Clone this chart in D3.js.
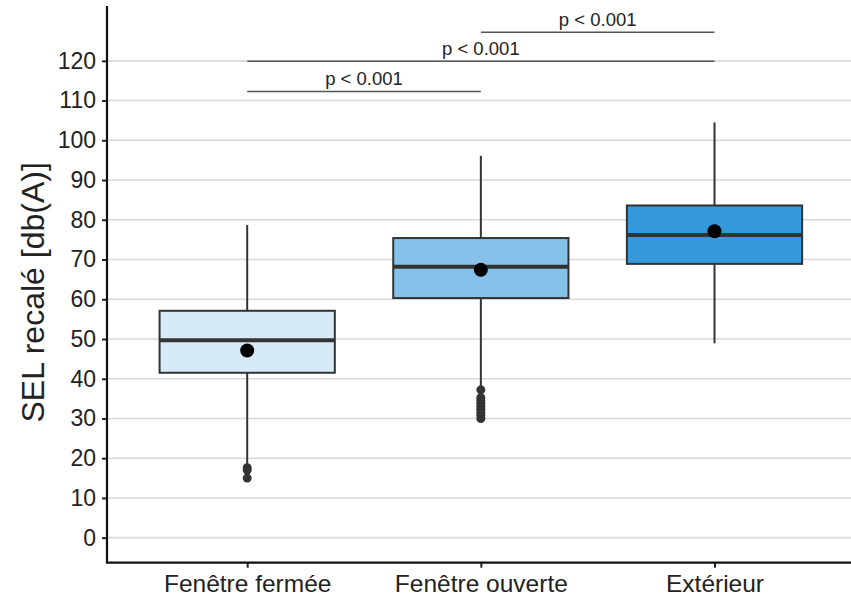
<!DOCTYPE html>
<html>
<head>
<meta charset="utf-8">
<script src="https://cdn.jsdelivr.net/npm/d3@7"></script>
<style>
  html, body { margin: 0; padding: 0; background: #fff; }
  text { font-family: "Liberation Sans", Arial, Helvetica, sans-serif; }
</style>
</head>
<body>
<svg id="chart" width="851" height="599"></svg>
<script>
// ---- Data ----
const categories = ["Fenêtre fermée", "Fenêtre ouverte", "Extérieur"];
const boxFill = ["#D6EAF8", "#85C1E9", "#3498DB"];
const whiskerLow = [18.3, 38.2, 48.9];
const q1 = [41.5, 60.3, 68.9];
const median = [49.7, 68.2, 76.2];
const q3 = [57.1, 75.4, 83.6];
const whiskerHigh = [78.7, 96.1, 104.5];
const means = [47.1, 67.4, 77.1];
const outliersFermee = [17.6, 17.0, 15.0];
const outliersOuverte = [37.2, 35.2, 34.5, 33.8, 33.0, 32.3, 31.5, 30.8, 30.0];
const outliersExterieur = [];
const yTicks = [0, 10, 20, 30, 40, 50, 60, 70, 80, 90, 100, 110, 120];
const comparisons = [
  { from: "Fenêtre fermée", to: "Fenêtre ouverte", y: 112.3, label: "p < 0.001" },
  { from: "Fenêtre fermée", to: "Extérieur", y: 119.9, label: "p < 0.001" },
  { from: "Fenêtre ouverte", to: "Extérieur", y: 127.2, label: "p < 0.001" }
];
const yTitle = "SEL recalé [db(A)]";

// ---- Layout ----
(function () {
const svg = d3.select("#chart");
const pLeft = 107, pRight = 854.7, pTop = 6, pBottom = 562.7;

const x = d3.scalePoint().domain(categories).range([pLeft, pRight]).padding(0.6);
const y = d3.scaleLinear().domain([-6.3, 133.8]).range([pBottom, pTop]);
const step = x.step();
const boxW = step * 0.75;

// gridlines
svg.append("g").selectAll("line").data(yTicks).join("line")
  .attr("x1", pLeft).attr("x2", 851)
  .attr("y1", d => y(d)).attr("y2", d => y(d))
  .attr("stroke", "#d9d9d9").attr("stroke-width", 1.6);

const outs = [outliersFermee, outliersOuverte, outliersExterieur];
const groups = categories.map((c, i) => ({
  c, i, lo: whiskerLow[i], q1: q1[i], med: median[i], q3: q3[i], hi: whiskerHigh[i],
  mean: means[i], fill: boxFill[i], out: outs[i]
}));

const g = svg.append("g");
groups.forEach(d => {
  const cx = x(d.c);
  g.append("line").attr("x1", cx).attr("x2", cx)
    .attr("y1", y(d.q3)).attr("y2", y(d.hi))
    .attr("stroke", "#333").attr("stroke-width", 2);
  g.append("line").attr("x1", cx).attr("x2", cx)
    .attr("y1", y(d.q1)).attr("y2", y(d.lo))
    .attr("stroke", "#333").attr("stroke-width", 2);
  g.append("rect").attr("x", cx - boxW / 2).attr("width", boxW)
    .attr("y", y(d.q3)).attr("height", y(d.q1) - y(d.q3))
    .attr("fill", d.fill).attr("stroke", "#333").attr("stroke-width", 2);
  g.append("line").attr("x1", cx - boxW / 2).attr("x2", cx + boxW / 2)
    .attr("y1", y(d.med)).attr("y2", y(d.med))
    .attr("stroke", "#333").attr("stroke-width", 4);
  g.selectAll(null).data(d.out).join("circle")
    .attr("cx", cx).attr("cy", v => y(v)).attr("r", 4.5)
    .attr("fill", "#333");
  g.append("circle").attr("cx", cx).attr("cy", y(d.mean)).attr("r", 7)
    .attr("fill", "#000");
});

const cg = svg.append("g");
comparisons.forEach(cp => {
  const x1 = x(cp.from), x2 = x(cp.to);
  cg.append("line").attr("x1", x1).attr("x2", x2)
    .attr("y1", y(cp.y)).attr("y2", y(cp.y))
    .attr("stroke", "#555").attr("stroke-width", 1.6);
  cg.append("text").attr("x", (x1 + x2) / 2).attr("y", y(cp.y) - 6.5)
    .attr("text-anchor", "middle").style("font-size", "18.5px").attr("fill", "#222")
    .text(cp.label);
});

const yAxis = svg.append("g").attr("transform", `translate(${pLeft},0)`)
  .call(d3.axisLeft(y).tickValues(yTicks).tickSize(5).tickPadding(6));
yAxis.attr("font-size", null).attr("font-family", null);
yAxis.select(".domain").remove();
yAxis.selectAll(".tick line").attr("stroke", "#222").attr("stroke-width", 2);
yAxis.selectAll(".tick text").style("font-size", "23px").attr("fill", "#222");
svg.append("line").attr("x1", pLeft).attr("x2", pLeft).attr("y1", pTop).attr("y2", pBottom)
  .attr("stroke", "#111").attr("stroke-width", 2.2);

const xAxis = svg.append("g").attr("transform", `translate(0,${pBottom})`)
  .call(d3.axisBottom(x).tickSize(5).tickPadding(7));
xAxis.attr("font-size", null).attr("font-family", null);
xAxis.select(".domain").remove();
xAxis.selectAll(".tick line").attr("stroke", "#222").attr("stroke-width", 2);
xAxis.selectAll(".tick text").style("font-size", "24.5px").attr("fill", "#222");
svg.append("line").attr("x1", pLeft - 1.1).attr("x2", 851).attr("y1", pBottom).attr("y2", pBottom)
  .attr("stroke", "#111").attr("stroke-width", 2.2);

svg.append("text")
  .attr("transform", `translate(44,${(pTop + pBottom) / 2 + 8}) rotate(-90)`)
  .attr("text-anchor", "middle").style("font-size", "32px").attr("fill", "#222")
  .text(yTitle);
})();
</script>
</body>
</html>
